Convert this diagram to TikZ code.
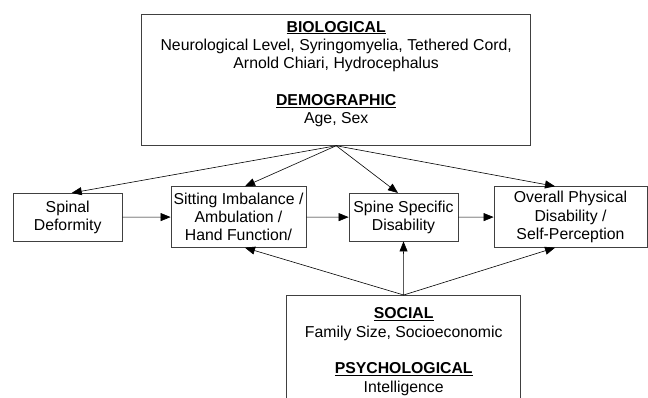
\documentclass[tikz,border=0pt]{standalone}
\usepackage{fontspec}
\setmainfont{Liberation Sans}
\usetikzlibrary{arrows.meta}
\begin{document}
\begin{tikzpicture}[x=1pt, y=-1pt,
	box/.style={draw=black!75, line width=0.8pt, align=center, font=\fontsize{15.8}{18.3}\selectfont},
	link/.style={-{Triangle[length=10pt,width=8pt]}, line width=0.6pt}]
	\clip (0,0) rectangle (648,398);
	\node (BIO) at (336.2, 14.3)	[box, anchor=north, minimum width=389, inner ysep=6.4]	{\underline{\textbf{BIOLOGICAL}}\\Neurological Level, Syringomyelia, Tethered Cord,\\Arnold Chiari, Hydrocephalus\\[18.3pt]\underline{\textbf{DEMOGRAPHIC}}\\Age, Sex\\[-3pt]\mbox{}};
	\node (SD)  at ( 67.7, 217.2)	[box, minimum width=108.7, minimum height=47.7, inner sep=1]	{Spinal\\Deformity};
	\node (SI)  at (238.5, 217)	[box, minimum width=135,   minimum height=60.6, inner sep=1]	{Sitting Imbalance /\\Ambulation /\\Hand Function/};
	\node (SS)  at (403.5, 217.2)	[box, minimum width=109,   minimum height=47.7, inner sep=1]	{Spine Specific\\Disability};
	\node (OV)  at (570.5, 217)	[box, minimum width=153,   minimum height=60.6, inner sep=1]	{Overall Physical\\Disability /\\Self-Perception};
	\node (SOC) at (403.7, 295)	[box, anchor=north, minimum width=234, inner ysep=12.5]	{\underline{\textbf{SOCIAL}}\\Family Size, Socioeconomic\\[18.3pt]\underline{\textbf{PSYCHOLOGICAL}}\\Intelligence\\\mbox{}\\\mbox{}};
	% from the top box
	\draw [link] (BIO.south) -- ([xshift=4]SD.north);
	\draw [link] (BIO.south) -- ([xshift=6.5]SI.north);
	\draw [link] (BIO.south) -- ([xshift=-5.5]SS.north);
	\draw [link] (BIO.south) -- ([xshift=-15.5]OV.north);
	% the chain
	\draw [link] (SD) -- (SI);
	\draw [link] (SI) -- (SS);
	\draw [link] (SS) -- (OV);
	% from the bottom box
	\draw [link] (SOC.north) -- ([xshift=6.5]SI.south);
	\draw [link] (SOC.north) -- (SS.south);
	\draw [link] (SOC.north) -- ([xshift=-15.5]OV.south);
\end{tikzpicture}
\end{document}
